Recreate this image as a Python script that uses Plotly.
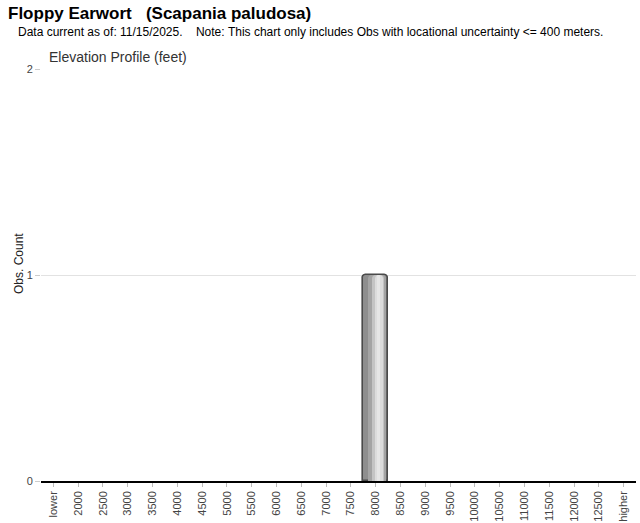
import plotly.graph_objects as go

categories = ["lower"] + [str(v) for v in range(2000, 13000, 500)] + ["higher"]
counts = [0, 0, 0, 0, 0, 0, 0, 0, 0, 0, 0, 0, 0, 1, 0, 0, 0, 0, 0, 0, 0, 0, 0, 0]

title_text = "Floppy Earwort   (Scapania paludosa)"
subtitle_text = "Data current as of: 11/15/2025.    Note: This chart only includes Obs with locational uncertainty <= 400 meters."
chart_title = "Elevation Profile (feet)"
y_title = "Obs. Count"
y_ticks = [0, 1, 2]

L, R, T, B = 41, 4, 69, 42
W, H = 640, 523
pw, ph = W - L - R, H - T - B

def px(x):
    return (x - L) / pw

def py(y):
    return (H - B - y) / ph

fig = go.Figure()
# simulated gradient bar via layered bars
layers = [
    (1.0, -0.5, "#8e8e8e", "#4a4a4a", 1.6),
    (0.72, -0.30, "#a4a4a4", None, 0),
    (0.50, -0.16, "#c4c4c4", None, 0),
    (0.30, -0.02, "#dcdcdc", None, 0),
    (0.14, 0.04, "#e6e6e6", None, 0),
]
for w, off, col, lc, lw in layers:
    lws = [lw if c > 0 else 0 for c in counts]
    fig.add_trace(go.Bar(
        x=categories, y=counts, width=w, offset=off,
        marker=dict(color=col, line=dict(color=lc if lc else col, width=lws)),
        hoverinfo="skip", showlegend=False,
    ))

fig.update_layout(
    width=W, height=H,
    margin=dict(l=L, r=R, t=T, b=B, autoexpand=False),
    plot_bgcolor="white", paper_bgcolor="white",
    barmode="overlay", bargap=0, barcornerradius=4,
    font=dict(family="Arial, 'Liberation Sans', sans-serif", color="#444", size=11),
    showlegend=False,
)
fig.update_xaxes(
    type="category", categoryorder="array", categoryarray=categories,
    tickangle=-90, tickfont=dict(size=11, color="#444"),
    ticks="outside", ticklen=4, tickcolor="#bbb",
    showline=True, linecolor="#000", linewidth=1.5,
    showgrid=False, zeroline=False, range=[-0.5, len(categories) - 0.5],
    automargin=False,
)
fig.update_yaxes(
    range=[0, 2], tickvals=y_ticks, ticktext=[str(v) for v in y_ticks],
    tickfont=dict(size=11, color="#444"),
    ticks="outside", ticklen=5, tickcolor="#ccc",
    showgrid=True, gridcolor="#e2e2e2", gridwidth=1,
    zeroline=False, showline=False, automargin=False,
)
fig.add_annotation(text=f"<b>{title_text}</b>".replace("   ", "&nbsp;&nbsp;&nbsp;"), xref="paper", yref="paper",
                   x=px(6), y=py(14), xanchor="left", yanchor="middle", showarrow=False,
                   font=dict(size=17, color="#000", family="Arial, 'Liberation Sans', sans-serif"))
fig.add_annotation(text=subtitle_text.replace(" ", "&nbsp;"), xref="paper", yref="paper",
                   x=px(16), y=py(32), xanchor="left", yanchor="middle", showarrow=False,
                   font=dict(size=12, color="#000"))
fig.add_annotation(text=chart_title, xref="paper", yref="paper",
                   x=px(47), y=py(57), xanchor="left", yanchor="middle", showarrow=False,
                   font=dict(size=14, color="#333"))
fig.add_annotation(text=y_title, xref="paper", yref="paper",
                   x=px(19), y=py(264), xanchor="center", yanchor="middle", textangle=-90,
                   showarrow=False, font=dict(size=12, color="#222"))
fig.write_html("out.html", config={"displayModeBar": False},
               post_script="document.body.style.margin='0';document.body.style.overflow='hidden';")
